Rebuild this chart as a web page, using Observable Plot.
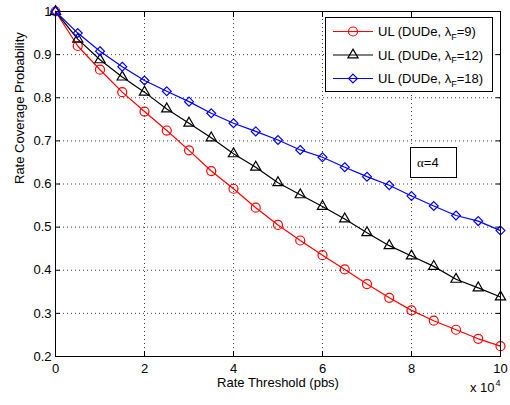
<!DOCTYPE html>
<html><head><meta charset="utf-8">
<script src="https://cdn.jsdelivr.net/npm/d3@7"></script>
<script src="https://cdn.jsdelivr.net/npm/@observablehq/plot@0.6"></script>
<style>body{margin:0;background:#fff;}</style>
</head><body><div id="chart"></div>
<script>
// Rate threshold in units of 10^4 pbs
const threshold = [0,0.5,1,1.5,2,2.5,3,3.5,4,4.5,5,5.5,6,6.5,7,7.5,8,8.5,9,9.5,10];
const ulLambda9  = [1.000,0.920,0.865,0.813,0.768,0.724,0.678,0.630,0.589,0.545,0.505,0.469,0.435,0.402,0.368,0.336,0.307,0.283,0.262,0.241,0.224];
const ulLambda12 = [1.000,0.936,0.888,0.848,0.813,0.774,0.741,0.707,0.670,0.639,0.603,0.575,0.548,0.519,0.487,0.457,0.433,0.409,0.379,0.359,0.338];
const ulLambda18 = [1.000,0.950,0.908,0.872,0.840,0.815,0.791,0.764,0.741,0.722,0.702,0.679,0.662,0.639,0.617,0.597,0.572,0.549,0.527,0.514,0.492];
const lambdas = [9, 12, 18];
const seriesValues = [ulLambda9, ulLambda12, ulLambda18];
const seriesColors = ["#ff0000", "#000000", "#0000ff"];
const seriesSymbols = ["circle", "triangle", "diamond2"];
const seriesRadius = [4.5, 3.8, 4.0];
const xTicks = [0,2,4,6,8,10];
const yTicks = [0.2,0.3,0.4,0.5,0.6,0.7,0.8,0.9,1.0];
const xLabel = "Rate Threshold (pbs)";
const yLabel = "Rate Coverage Probability";
const xExponentBase = "x 10";
const xExponent = "4";
const annotation = "=4";

const FONT = "'Liberation Sans', Arial, Helvetica, sans-serif";
const FS = 13;

const marks = [
  Plot.gridX(xTicks, {stroke: "#000", strokeOpacity: 0.75, strokeDasharray: "1,3", strokeWidth: 1}),
  Plot.gridY(yTicks, {stroke: "#000", strokeOpacity: 0.75, strokeDasharray: "1,3", strokeWidth: 1})
];
seriesValues.forEach((vals, i) => {
  const rows = threshold.map((t, j) => ({t, v: vals[j]}));
  marks.push(Plot.line(rows, {x: "t", y: "v", stroke: seriesColors[i], strokeWidth: 1.2}));
  marks.push(Plot.dot(rows, {x: "t", y: "v", stroke: seriesColors[i], fill: "none", symbol: seriesSymbols[i], r: seriesRadius[i], strokeWidth: 1.2}));
});
marks.push(
  Plot.frame({stroke: "#000", strokeWidth: 1}),
  Plot.axisX(xTicks, {anchor: "bottom", tickSize: 0, tickPadding: 7, label: null, fontSize: FS}),
  Plot.axisY(yTicks, {anchor: "left", tickSize: 0, tickPadding: 4, label: null, fontSize: FS, tickFormat: d => d === 1 ? "1" : d.toFixed(1)}),
  Plot.axisX(xTicks, {anchor: "bottom", tickSize: 5, dy: -5, fill: "none", label: null}),
  Plot.axisX(xTicks, {anchor: "top", tickSize: 5, dy: 5, fill: "none", label: null}),
  Plot.axisY(yTicks, {anchor: "left", tickSize: 5, dx: 5, fill: "none", label: null}),
  Plot.axisY(yTicks, {anchor: "right", tickSize: 5, dx: -5, fill: "none", label: null}),
  Plot.text([xLabel], {frameAnchor: "bottom", dy: 30, fontSize: FS, fill: "#000"}),
  Plot.text([yLabel], {frameAnchor: "left", dx: -36, rotate: -90, fontSize: FS, fill: "#000"}),
  Plot.text([xExponentBase], {frameAnchor: "bottom-right", textAnchor: "end", dx: -6, dy: 35, fontSize: FS, fill: "#000"}),
  Plot.text([xExponent], {frameAnchor: "bottom-right", textAnchor: "start", dx: -5, dy: 29, fontSize: 9, fill: "#000"})
);

const svg = Plot.plot({
  width: 510, height: 405,
  marginLeft: 55, marginRight: 10, marginTop: 11, marginBottom: 49,
  style: {fontFamily: FONT, fontSize: FS + "px", background: "#fff", color: "#000", overflow: "visible"},
  x: {domain: [0, 10], ticks: xTicks},
  y: {domain: [0.2, 1], ticks: yTicks},
  marks
});

// Legend (drawn over the plot area)
const sel = d3.select(svg);
const lg = sel.append("g").attr("font-family", FONT).attr("font-size", FS).attr("text-anchor", "start");
lg.append("rect").attr("x", 325.5).attr("y", 17.5).attr("width", 167).attr("height", 74)
  .attr("fill", "#fff").attr("stroke", "#000");
const symTypes = {circle: d3.symbolCircle, triangle: d3.symbolTriangle, diamond2: d3.symbolDiamond2};
const legendRowY = [31.5, 55, 78.5];
lambdas.forEach((lam, i) => {
  const cy = legendRowY[i];
  lg.append("line").attr("x1", 333).attr("x2", 373).attr("y1", cy).attr("y2", cy)
    .attr("stroke", seriesColors[i]).attr("stroke-width", 1.2);
  lg.append("path").attr("d", d3.symbol(symTypes[seriesSymbols[i]], Math.PI * seriesRadius[i] ** 2)())
    .attr("transform", `translate(353,${cy})`).attr("fill", "none")
    .attr("stroke", seriesColors[i]).attr("stroke-width", 1.2);
  const t = lg.append("text").attr("x", 378).attr("y", cy + 4.5).attr("fill", "#000");
  t.append("tspan").text("UL (DUDe, λ");
  t.append("tspan").attr("dy", 3.5).attr("font-size", 9).text("F");
  t.append("tspan").attr("dy", -3.5).text(`=${lam})`);
});

// Annotation box
const ab = sel.append("g").attr("font-family", FONT).attr("font-size", FS).attr("text-anchor", "start");
ab.append("rect").attr("x", 410.5).attr("y", 147.5).attr("width", 46).attr("height", 30)
  .attr("fill", "#fff").attr("stroke", "#000");
const at = ab.append("text").attr("x", 417).attr("y", 166.5).attr("fill", "#000");
at.append("tspan").attr("font-family", "'Liberation Serif', 'DejaVu Serif', serif").text("α");
at.append("tspan").text(annotation);

document.getElementById("chart").appendChild(svg);
</script>
</body></html>
